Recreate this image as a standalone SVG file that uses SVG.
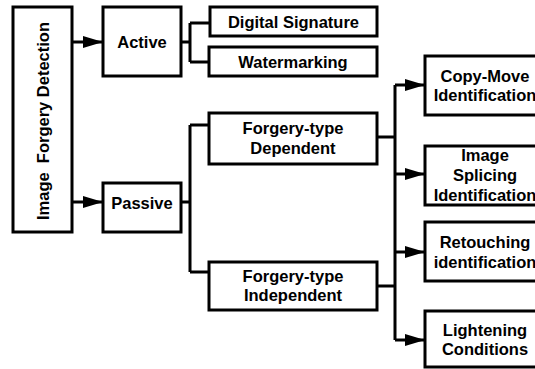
<svg xmlns="http://www.w3.org/2000/svg" width="535" height="369" viewBox="0 0 535 369">
<defs>
<style>
rect{fill:#fff;stroke:#000;stroke-width:3}
text{font-family:"Liberation Sans",Arial,sans-serif;font-weight:bold;font-size:16.5px;text-anchor:middle;dominant-baseline:central;fill:#000}
.c{fill:none;stroke:#000;stroke-width:3}
</style>
<marker id="ah" markerWidth="20" markerHeight="12" refX="20" refY="6" orient="auto" markerUnits="userSpaceOnUse">
<path d="M0,0 L20,6 L0,12 Z" fill="#000"/>
</marker>
</defs>
<rect x="0" y="0" width="535" height="369" style="fill:#fff;stroke:none"/>
<g id="connectors">
<path class="c" d="M72,42 H103" marker-end="url(#ah)"/>
<path class="c" d="M72,202 H103" marker-end="url(#ah)"/>
<path class="c" d="M181,42 H190 M190,23 V62 M190,23 H210 M190,62 H210"/>
<path class="c" d="M181,202 H190 M190,125 V272 M190,125 H209 M190,272 H209"/>
<path class="c" d="M377,137 H395 M377,286 H395 M395,85 V340"/>
<path class="c" d="M395,85 H425" marker-end="url(#ah)"/>
<path class="c" d="M395,174 H425" marker-end="url(#ah)"/>
<path class="c" d="M395,252 H425" marker-end="url(#ah)"/>
<path class="c" d="M395,340 H425" marker-end="url(#ah)"/>
</g>
<g id="root"><rect x="13" y="7" width="59" height="225"/><text transform="translate(43,121) rotate(-90)" style="white-space:pre">Image  Forgery Detection</text></g>
<g id="active"><rect x="103" y="7" width="78" height="69"/><text x="142" y="42">Active</text></g>
<g id="passive"><rect x="103" y="183" width="78" height="49"/><text x="142" y="203">Passive</text></g>
<g id="digsig"><rect x="210" y="7" width="167" height="29"/><text x="293.5" y="22">Digital Signature</text></g>
<g id="watermark"><rect x="209" y="47" width="168" height="29"/><text x="293" y="62">Watermarking</text></g>
<g id="dependent"><rect x="209" y="113" width="168" height="51"/><text x="293" y="128">Forgery-type</text><text x="293" y="148">Dependent</text></g>
<g id="independent"><rect x="209" y="262" width="168" height="48"/><text x="293" y="276">Forgery-type</text><text x="293" y="295">Independent</text></g>
<g id="copymove"><rect x="425" y="56" width="120" height="59"/><text x="485" y="76">Copy-Move</text><text x="485" y="95">Identification</text></g>
<g id="splicing"><rect x="425" y="146" width="120" height="59"/><text x="485" y="155">Image</text><text x="485" y="175">Splicing</text><text x="485" y="195">Identification</text></g>
<g id="retouch"><rect x="425" y="222" width="120" height="59"/><text x="485" y="242">Retouching</text><text x="485" y="262">identification</text></g>
<g id="lighten"><rect x="425" y="311" width="120" height="56"/><text x="485" y="330">Lightening</text><text x="485" y="349">Conditions</text></g>
</svg>
